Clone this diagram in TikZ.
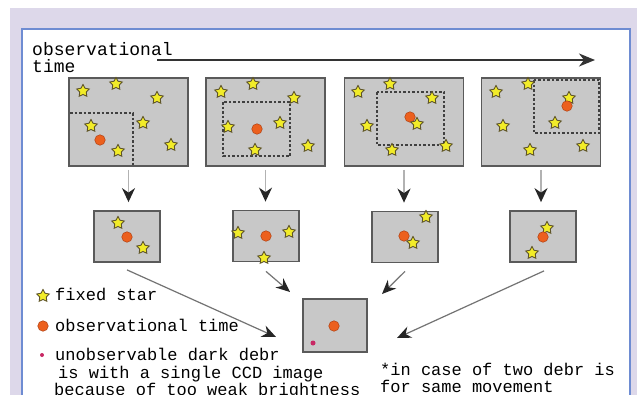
\documentclass[tikz,border=0pt]{standalone}
\usepackage{fontspec}
\setmainfont{Liberation Mono}
\usetikzlibrary{shapes.geometric,arrows.meta,calc}
\definecolor{lav}{RGB}{221,216,234}
\definecolor{bord}{RGB}{110,140,210}
\definecolor{panelfill}{RGB}{200,200,200}
\definecolor{paneldraw}{RGB}{90,90,90}
\definecolor{staryel}{RGB}{242,236,40}
\definecolor{starline}{RGB}{95,85,40}
\definecolor{dotred}{RGB}{236,96,30}
\definecolor{dotline}{RGB}{175,65,20}
\definecolor{mag}{RGB}{200,40,100}
\begin{document}
\begin{tikzpicture}[x=1pt,y=-1pt,
  panel/.style={draw=paneldraw, line width=1.8pt, fill=panelfill, inner sep=0pt},
  bigpanel/.style={panel, minimum width=119pt, minimum height=88pt},
  smallpanel/.style={panel, minimum width=66pt, minimum height=51pt},
  fstar/.style={star, star points=5, star point ratio=1.9, minimum size=13pt, inner sep=0pt, fill=staryel, draw=starline, line width=0.9pt},
  rdot/.style={circle, minimum size=10.5pt, inner sep=0pt, fill=dotred, draw=dotline, line width=0.5pt},
  mdot/.style={circle, minimum size=5pt, inner sep=0pt, fill=mag},
  dashbox/.style={draw=black!75, line width=1.7pt, dash pattern=on 2.5pt off 2pt},
  downarr/.style={draw=black!30, line width=1.5pt, -{Stealth[length=14pt,width=13pt,inset=4.5pt,color=black!85]}},
  convarr/.style={draw=black!55, line width=1.2pt, -{Stealth[length=14pt,width=12pt,inset=4.5pt,color=black!85]}},
  txt/.style={anchor=base west, inner sep=0pt, font=\fontsize{17}{18}\selectfont},
  toptxt/.style={anchor=base west, inner sep=0pt, font=\fontsize{18}{18}\selectfont}
]
\useasboundingbox (0,0) rectangle (637,394);
\clip (0,0) rectangle (637,394);
% background
\fill[lav] (10,8) rectangle (640,400);
\fill[white] (22,29) rectangle (630,400);
\draw[bord, line width=1.4pt] (22,400) -- (22,29) -- (630,29) -- (630,400);

% time axis
\node[toptxt] (t1) at (32,55) {observational};
\node[toptxt] (t2) at (32,72) {time};
\coordinate (tstart) at (157,60);
\coordinate (tend) at (595,60);
\draw[black!80, line width=2pt, -{Stealth[length=16pt,width=13pt,inset=5pt]}] (tstart) -- (tend);

% top panels
\node[bigpanel] (p1) at (128.5,122) {};
\node[bigpanel] (p2) at (265.5,122) {};
\node[bigpanel] (p3) at (404,122) {};
\node[bigpanel] (p4) at (541,122) {};

% dashed fields
\draw[dashbox] (70,113) -- (133,113) -- (133,166);
\draw[dashbox] (223,102) rectangle (290,156);
\draw[dashbox] (377,92) rectangle (444,145);
\draw[dashbox] (534,80) rectangle (599,133);

% stars panel 1
\foreach \x/\y [count=\i] in {83/91,116/84,157/98,91/126,143/123,118/151,171/145}
  \node[fstar] (sa\i) at (\x,\y) {};
\node[rdot] (da) at (100,140) {};
% panel 2
\foreach \x/\y [count=\i] in {221/92,253/84,294/98,228/127,280/123,255/150,308/146}
  \node[fstar] (sb\i) at (\x,\y) {};
\node[rdot] (db) at (257,129) {};
% panel 3
\node[rdot] (dc) at (410,117) {};
\foreach \x/\y [count=\i] in {358/92,390/84,432/98,367/126,417/124,392/150,446/146}
  \node[fstar] (sc\i) at (\x,\y) {};
% panel 4
\foreach \x/\y [count=\i] in {496/92,528/84,569/98,503/126,555/123,530/150,583/146}
  \node[fstar] (sd\i) at (\x,\y) {};
\node[rdot] (dd) at (567,106) {};

% second row
\node[smallpanel] (q1) at (127,236.5) {};
\node[smallpanel] (q2) at (266,236) {};
\node[smallpanel] (q3) at (405,237) {};
\node[smallpanel] (q4) at (543,236.5) {};

\node[fstar] (qa1) at (118,223) {};
\node[fstar] (qa2) at (143,248) {};
\node[rdot] (qad) at (127,237) {};

\node[fstar] (qb1) at (238,233) {};
\node[fstar] (qb2) at (289,232) {};
\node[fstar] (qb3) at (264,258) {};
\node[rdot] (qbd) at (266,236) {};

\node[fstar] (qc1) at (426,217) {};
\node[rdot] (qcd) at (404,236) {};
\node[fstar] (qc2) at (413,243) {};

\node[fstar] (qd1) at (547,228) {};
\node[rdot] (qdd) at (543,237) {};
\node[fstar] (qd2) at (532,253) {};

% down arrows
\draw[downarr, shorten <=3pt, shorten >=8pt] (p1.south) -- (q1.north -| p1.south);
\draw[downarr, shorten <=3pt, shorten >=8pt] (p2.south) -- (q2.north -| p2.south);
\draw[downarr, shorten <=3pt, shorten >=8pt] (p3.south) -- (q3.north -| p3.south);
\draw[downarr, shorten <=3pt, shorten >=8pt] (p4.south) -- (q4.north -| p4.south);

% result panel
\node[smallpanel, minimum width=64pt, minimum height=53pt] (r) at (335,325.5) {};
\node[rdot] (rd) at (334,326) {};
\node[mdot] (rm) at (313,343) {};

% converging arrows
\coordinate (ea) at (276,337);
\coordinate (eb) at (290,292);
\coordinate (ec) at (382,294);
\coordinate (ed) at (397,338);
\draw[convarr] ($(q1.south)+(0,7)$) -- (ea);
\draw[convarr] ($(q2.south)+(0,9)$) -- (eb);
\draw[convarr] ($(q3.south)+(0,8)$) -- (ec);
\draw[convarr] ($(q4.south)+(1,8)$) -- (ed);

% legend
\node[fstar] (ls) at (43,296) {};
\node[txt] (l1) at (55,300) {fixed star};
\node[rdot] (lr) at (43,326) {};
\node[txt] (l2) at (55,331) {observational time};
\node[mdot, minimum size=4pt] (lm) at (42,355) {};
\node[txt] (l3) at (55,360) {unobservable dark debr};
\node[txt] (l4) at (58,378) {is with a single CCD image};
\node[txt] (l5) at (54,395) {because of too weak brightness};
\node[txt] (n1) at (380,375) {*in case of two debr is};
\node[txt] (n2) at (380,392) {for same movement};
\end{tikzpicture}
\end{document}
